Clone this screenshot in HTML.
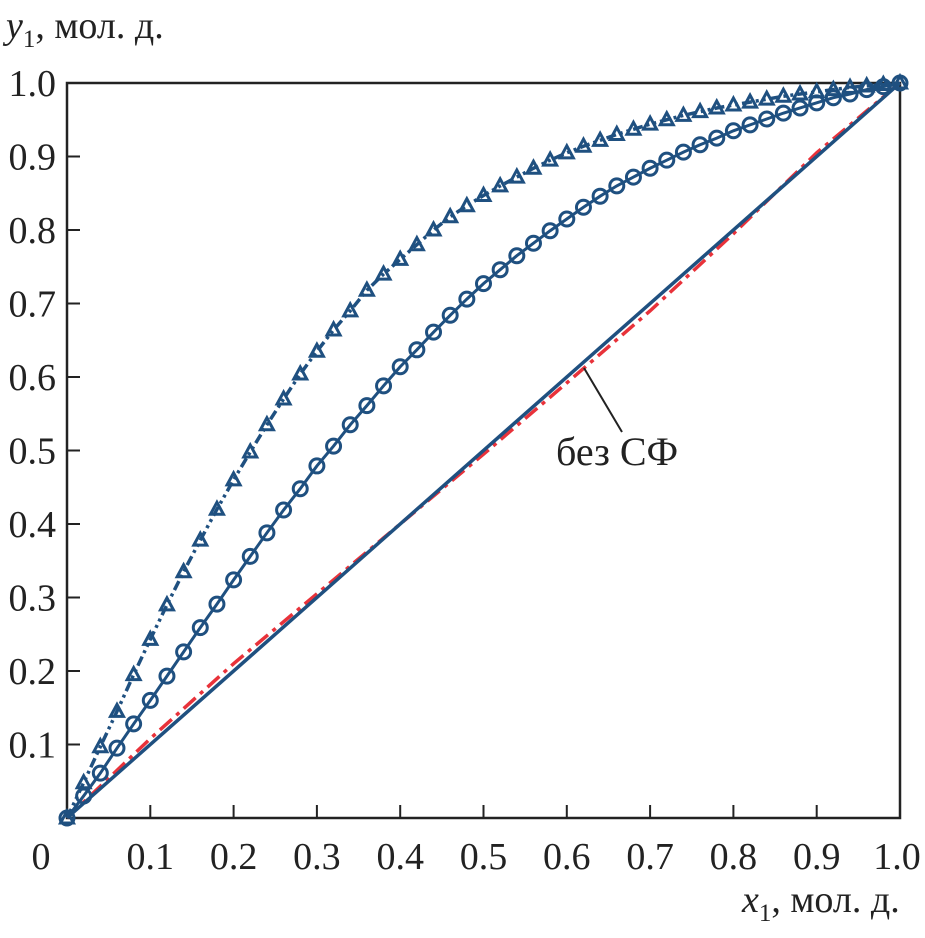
<!DOCTYPE html>
<html><head><meta charset="utf-8"><style>
body{margin:0;background:#fff}
text{font-family:"Liberation Serif","Times New Roman","DejaVu Serif","Noto Serif CJK SC",serif !important;fill:#222}
</style></head><body>
<svg id="chart" width="925" height="933" xmlns="http://www.w3.org/2000/svg">
<g id="axes"></g>
<g id="series"></g>
<text x="6" y="38" font-size="38"><tspan font-style="italic">y</tspan><tspan font-size="25" dy="9">1</tspan><tspan dy="-9">, мол. д.</tspan></text>
<text x="742" y="912" font-size="38"><tspan font-style="italic">x</tspan><tspan font-size="25" dy="9">1</tspan><tspan dy="-9">, мол. д.</tspan></text>
<line x1="584" y1="368" x2="622" y2="432" stroke="#222" stroke-width="2"/>
<text x="556" y="465" font-size="40">без СФ</text>
</svg>
<script>
const xTicks=[0,0.1,0.2,0.3,0.4,0.5,0.6,0.7,0.8,0.9,1.0];
const xTickLabels=["0","0.1","0.2","0.3","0.4","0.5","0.6","0.7","0.8","0.9","1.0"];
const yTicks=[0.1,0.2,0.3,0.4,0.5,0.6,0.7,0.8,0.9,1.0];
const yTickLabels=["0.1","0.2","0.3","0.4","0.5","0.6","0.7","0.8","0.9","1.0"];
const xs=[0,0.02,0.04,0.06,0.08,0.10,0.12,0.14,0.16,0.18,0.20,0.22,0.24,0.26,0.28,0.30,0.32,0.34,0.36,0.38,0.40,0.42,0.44,0.46,0.48,0.50,0.52,0.54,0.56,0.58,0.60,0.62,0.64,0.66,0.68,0.70,0.72,0.74,0.76,0.78,0.80,0.82,0.84,0.86,0.88,0.90,0.92,0.94,0.96,0.98,1.0];
const yCircles=[0,0.03,0.061,0.095,0.128,0.16,0.193,0.226,0.259,0.291,0.324,0.356,0.388,0.419,0.448,0.479,0.506,0.535,0.561,0.588,0.614,0.637,0.661,0.684,0.706,0.727,0.746,0.765,0.782,0.799,0.815,0.831,0.846,0.86,0.872,0.884,0.895,0.906,0.916,0.925,0.935,0.943,0.951,0.959,0.966,0.973,0.98,0.985,0.991,0.995,1.0];
const yTriangles=[0,0.048,0.097,0.145,0.195,0.243,0.29,0.335,0.378,0.42,0.46,0.498,0.535,0.57,0.604,0.635,0.664,0.69,0.718,0.74,0.76,0.78,0.80,0.818,0.833,0.847,0.86,0.872,0.884,0.895,0.905,0.914,0.922,0.93,0.937,0.944,0.95,0.956,0.961,0.966,0.97,0.974,0.978,0.982,0.985,0.988,0.991,0.994,0.996,0.998,1.0];
const xRed=[0,0.1,0.2,0.3,0.4,0.5,0.6,0.7,0.8,0.9,1.0];
const yRed=[0,0.108,0.21,0.305,0.4,0.495,0.592,0.69,0.795,0.905,1.0];
const xDiag=[0,1];
const yDiag=[0,1];

const NS="http://www.w3.org/2000/svg";
const X0=67,X1=900,Y0=818,Y1=83;
const sx=v=>X0+(X1-X0)*v, sy=v=>Y0-(Y0-Y1)*v;
function mk(t,a,p){const e=document.createElementNS(NS,t);for(const k in a)e.setAttribute(k,a[k]);p.appendChild(e);return e;}
const ax=document.getElementById('axes'), se=document.getElementById('series');
const frame=mk('rect',{x:X0,y:Y1,width:X1-X0,height:Y0-Y1,fill:'none',stroke:'#222','stroke-width':2.5},ax);


xTicks.forEach((v,i)=>{
  if(i>0&&i<xTicks.length-1){const t=mk('line',{x1:sx(v),x2:sx(v),y1:Y0,y2:Y0-13,stroke:'#222','stroke-width':2},ax);
  
  }
  const l=mk('text',{x:i==0?41:(i==xTicks.length-1?sx(v)-3:sx(v)),y:869,'font-size':38,'text-anchor':'middle'},ax);l.textContent=xTickLabels[i];
  
  
});
yTicks.forEach((v,i)=>{
  if(i<yTicks.length-1){const t=mk('line',{x1:X0,x2:X0+13,y1:sy(v),y2:sy(v),stroke:'#222','stroke-width':2},ax);
  
  }
  const l=mk('text',{x:56,y:sy(v)+13,'font-size':38,'text-anchor':'end'},ax);l.textContent=yTickLabels[i];
  
  
});
const pts=(a,b)=>a.map((v,i)=>sx(v)+','+sy(b[i])).join(' ');
const red=mk('polyline',{points:pts(xRed,yRed),fill:'none',stroke:'#e8323a','stroke-width':3.5,'stroke-dasharray':'16,6,4,6'},se);


const diag=mk('polyline',{points:pts(xDiag,yDiag),fill:'none',stroke:'#1f5080','stroke-width':3.5},se);


const cl=mk('polyline',{points:pts(xs,yCircles),fill:'none',stroke:'#1f5080','stroke-width':3},se);


const tl=mk('polyline',{points:pts(xs,yTriangles),fill:'none',stroke:'#1f5080','stroke-width':3.5,'stroke-dasharray':'10,4,3,4,3,4'},se);


xs.forEach((v,i)=>{
  const c=mk('circle',{cx:sx(v),cy:sy(yCircles[i]),r:7,fill:'none',stroke:'#1f5080','stroke-width':3},se);
  
  
  const x=sx(v),y=sy(yTriangles[i]);
  const t=mk('polygon',{points:`${x},${y-7} ${x-6.5},${y+5} ${x+6.5},${y+5}`,fill:'none',stroke:'#1f5080','stroke-width':3},se);
  
  
});
</script>
</body></html>
